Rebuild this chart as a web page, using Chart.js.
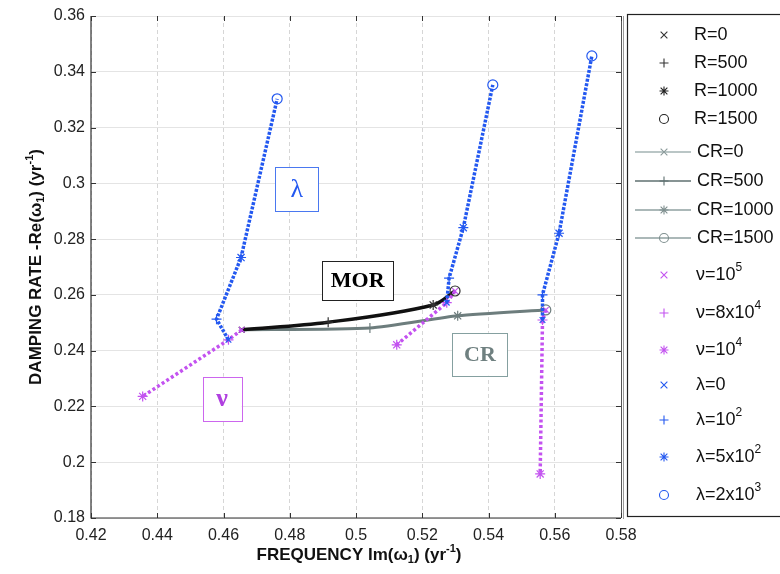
<!DOCTYPE html>
<html>
<head>
<meta charset="utf-8">
<script src="https://cdn.jsdelivr.net/npm/chart.js@4.4.0/dist/chart.umd.min.js"></script>
<style>
  html, body { margin: 0; padding: 0; background: #fff; }
  #wrap { width: 780px; height: 574px; }
</style>
</head>
<body>
<div id="wrap"><canvas id="c" width="780" height="574"></canvas></div>
<script>
// axis ticks
const xTicks = [0.42, 0.44, 0.46, 0.48, 0.50, 0.52, 0.54, 0.56, 0.58];
const yTicks = [0.18, 0.20, 0.22, 0.24, 0.26, 0.28, 0.30, 0.32, 0.34, 0.36];

// MOR branch (R = 0, 500, 1000, 1500)
const morX = [0.4655, 0.4916, 0.5233, 0.5299];
const morY = [0.2475, 0.2502, 0.2564, 0.2614];

// CR branch (CR = 0, 500, 1000, 1500)
const crX = [0.4655, 0.5042, 0.5307, 0.5573];
const crY = [0.2475, 0.2481, 0.2525, 0.2546];

// nu branches (nu = 1e5, 8e4, 1e4)
const nuX1 = [0.4655, 0.4615, 0.4356];
const nuY1 = [0.2475, 0.2439, 0.2236];
const nuX2 = [0.5299, 0.5274, 0.5123];
const nuY2 = [0.2614, 0.2572, 0.2421];
const nuX3 = [0.5573, 0.5563, 0.5556];
const nuY3 = [0.2546, 0.2510, 0.1958];

// lambda branches (lambda = 0, 1e2, 5e2, 2e3)
const lamX1 = [0.4615, 0.4579, 0.4653, 0.4762];
const lamY1 = [0.2439, 0.2513, 0.2734, 0.3303];
const lamX2 = [0.5274, 0.5281, 0.5324, 0.5413];
const lamY2 = [0.2572, 0.2660, 0.2841, 0.3353];
const lamX3 = [0.5563, 0.5563, 0.5613, 0.5712];
const lamY3 = [0.2510, 0.2600, 0.2821, 0.3457];

const legendLabels = ['R=0', 'R=500', 'R=1000', 'R=1500',
  'CR=0', 'CR=500', 'CR=1000', 'CR=1500',
  'ν=10^5', 'ν=8x10^4', 'ν=10^4',
  'λ=0', 'λ=10^2', 'λ=5x10^2', 'λ=2x10^3'];

const xTitle = 'FREQUENCY Im(ω_1) (yr^{-1})';
const yTitle = 'DAMPING RATE -Re(ω_1) (yr^{-1})';

// colours
const BLUE = '#2358f0';
const PINK = '#c352f0';
const BLACK = '#111111';
const GREY = '#6d7d7d';
const SANS = '"Liberation Sans", Arial, sans-serif';
const SERIF = '"Liberation Serif", "DejaVu Serif", serif';

const markers = ['crossRot', 'cross', 'star', 'circle'];

const pts = (xs, ys) => xs.map((x, i) => ({ x: x, y: ys[i] }));

function series(xs, ys, color, width, dash, extra) {
    return Object.assign({
        data: pts(xs, ys),
        showLine: true,
        borderColor: color,
        borderWidth: width,
        borderDash: dash,
        pointStyle: markers.slice(0, xs.length),
        pointRadius: [4, 5, 5, 5],
        pointBorderColor: color,
        pointBackgroundColor: 'rgba(0,0,0,0)',
        pointBorderWidth: 1.2,
        tension: 0
    }, extra || {});
}

// legend row layout (styles only)
const legendRows = [35, 63, 91, 119, 152, 181, 210, 238, 275, 313, 350, 385, 420, 457, 495];
const legendStyle = [
    { m: 'crossRot', c: '#333' }, { m: 'cross', c: '#333' }, { m: 'star', c: '#222' }, { m: 'circle', c: '#222' },
    { m: 'crossRot', c: '#8a9a9a', line: '#a3b3b3' }, { m: 'cross', c: '#5f7070', line: '#5f7070' },
    { m: 'star', c: '#7f8f8f', line: '#8fa0a0' }, { m: 'circle', c: '#7f8f8f', line: '#8fa0a0' },
    { m: 'crossRot', c: PINK }, { m: 'cross', c: PINK }, { m: 'star', c: PINK },
    { m: 'crossRot', c: BLUE }, { m: 'cross', c: BLUE }, { m: 'star', c: BLUE }, { m: 'circle', c: BLUE }
];

// text boxes placed in data units
const boxes = [
    { text: 'λ', x: 0.4821, y: 0.2978, w: 43, h: 44, color: BLUE, border: '#4a78f0', font: '26px ' + SERIF },
    { text: 'MOR', x: 0.5005, y: 0.2652, w: 71, h: 39, color: '#000', border: '#222', font: 'bold 22px ' + SERIF },
    { text: 'CR', x: 0.5374, y: 0.2387, w: 55, h: 43, color: '#6f8080', border: '#85a0a0', font: 'bold 22px ' + SERIF },
    { text: 'ν', x: 0.4596, y: 0.2228, w: 39, h: 44, color: '#b040e0', border: '#cc66ee', font: 'bold 26px ' + SERIF }
];

function drawMarker(ctx, style, x, y, r, color) {
    ctx.save();
    ctx.strokeStyle = color;
    ctx.lineWidth = 1.1;
    ctx.beginPath();
    const d = r * 0.75;
    if (style === 'crossRot' || style === 'star') {
        ctx.moveTo(x - d, y - d); ctx.lineTo(x + d, y + d);
        ctx.moveTo(x - d, y + d); ctx.lineTo(x + d, y - d);
    }
    if (style === 'cross' || style === 'star') {
        ctx.moveTo(x - r, y); ctx.lineTo(x + r, y);
        ctx.moveTo(x, y - r); ctx.lineTo(x, y + r);
    }
    if (style === 'circle') {
        ctx.arc(x, y, r, 0, Math.PI * 2);
    }
    ctx.stroke();
    ctx.restore();
}

// rich text: a_b subscript, a^b superscript, braces for groups
function parseRich(text) {
    const out = [];
    const re = /([_^])(\{[^}]*\}|.)/g;
    let last = 0, m;
    while ((m = re.exec(text)) !== null) {
        if (m.index > last) out.push({ t: text.slice(last, m.index), k: '' });
        out.push({ t: m[2].replace(/[{}]/g, ''), k: m[1] });
        last = re.lastIndex;
    }
    if (last < text.length) out.push({ t: text.slice(last), k: '' });
    return out;
}

function drawRich(ctx, text, x, y, size, weight, align) {
    const parts = parseRich(text);
    const fontFor = k => weight + ' ' + (k ? Math.round(size * 0.65) : size) + 'px ' + SANS;
    let total = 0;
    parts.forEach(p => { ctx.font = fontFor(p.k); p.w = ctx.measureText(p.t).width; total += p.w; });
    let cx = align === 'center' ? x - total / 2 : x;
    ctx.textBaseline = 'middle';
    ctx.textAlign = 'left';
    parts.forEach(p => {
        ctx.font = fontFor(p.k);
        const dy = p.k === '_' ? size * 0.32 : (p.k === '^' ? -size * 0.38 : 0);
        ctx.fillText(p.t, cx, y + dy);
        cx += p.w;
    });
}

const decor = {
    id: 'decor',
    beforeDatasetsDraw(chart) {
        const ctx = chart.ctx, xs = chart.scales.x, ys = chart.scales.y;
        boxes.forEach(b => {
            const cx = xs.getPixelForValue(b.x), cy = ys.getPixelForValue(b.y);
            ctx.save();
            ctx.fillStyle = '#fff';
            ctx.fillRect(cx - b.w / 2, cy - b.h / 2, b.w, b.h);
            ctx.strokeStyle = b.border;
            ctx.lineWidth = 1;
            ctx.strokeRect(Math.round(cx - b.w / 2) + 0.5, Math.round(cy - b.h / 2) + 0.5, b.w, b.h);
            ctx.fillStyle = b.color;
            ctx.font = b.font;
            ctx.textAlign = 'center';
            ctx.textBaseline = 'middle';
            ctx.fillText(b.text, cx, cy + 1);
            ctx.restore();
        });
    },
    afterDraw(chart) {
        const ctx = chart.ctx, a = chart.chartArea, xs = chart.scales.x, ys = chart.scales.y;
        ctx.save();
        // axes box
        ctx.strokeStyle = '#333';
        ctx.lineWidth = 1.2;
        ctx.beginPath();
        ctx.moveTo(a.left, a.top); ctx.lineTo(a.left, a.bottom); ctx.lineTo(a.right, a.bottom);
        ctx.stroke();
        ctx.strokeStyle = '#555';
        ctx.lineWidth = 1;
        ctx.beginPath();
        ctx.moveTo(a.right + 0.5, a.top); ctx.lineTo(a.right + 0.5, a.bottom);
        ctx.stroke();
        ctx.strokeStyle = '#999';
        ctx.beginPath();
        ctx.moveTo(a.right + 2.5, a.top); ctx.lineTo(a.right + 2.5, a.bottom + 1);
        ctx.stroke();
        // inward tick marks
        ctx.strokeStyle = '#333';
        ctx.beginPath();
        xTicks.forEach(v => {
            const px = Math.round(xs.getPixelForValue(v)) + 0.5;
            ctx.moveTo(px, a.bottom); ctx.lineTo(px, a.bottom - 5);
            ctx.moveTo(px, a.top); ctx.lineTo(px, a.top + 5);
        });
        yTicks.forEach(v => {
            const py = Math.round(ys.getPixelForValue(v)) + 0.5;
            ctx.moveTo(a.left, py); ctx.lineTo(a.left + 5, py);
            ctx.moveTo(a.right, py); ctx.lineTo(a.right - 5, py);
        });
        ctx.stroke();

        // axis titles
        ctx.fillStyle = '#111';
        drawRich(ctx, xTitle, (a.left + a.right) / 2 + 3, 555, 17, 'bold', 'center');
        ctx.save();
        ctx.translate(36, (a.top + a.bottom) / 2);
        ctx.rotate(-Math.PI / 2);
        drawRich(ctx, yTitle, 0, 0, 17, 'bold', 'center');
        ctx.restore();

        // legend
        ctx.fillStyle = '#fff';
        ctx.fillRect(627, 14, 170, 502);
        ctx.strokeStyle = '#222';
        ctx.lineWidth = 1.2;
        ctx.strokeRect(627.5, 14.5, 170, 502);
        legendLabels.forEach((lab, i) => {
            const y = legendRows[i], st = legendStyle[i];
            if (st.line) {
                ctx.strokeStyle = st.line;
                ctx.lineWidth = 1.5;
                ctx.beginPath();
                ctx.moveTo(635, y); ctx.lineTo(691, y);
                ctx.stroke();
            }
            drawMarker(ctx, st.m, 664, y, 4.5, st.c);
            ctx.fillStyle = '#111';
            drawRich(ctx, lab, i < 4 ? 694 : (i < 8 ? 697 : 696), y, 18, 'normal', 'left');
        });
        ctx.restore();
    }
};

const fmt = v => String(+Number(v).toFixed(2));

new Chart(document.getElementById('c'), {
    type: 'scatter',
    data: {
        datasets: [
            series(lamX1, lamY1, BLUE, 3.5, [3, 1.5]),
            series(lamX2, lamY2, BLUE, 3.5, [3, 1.5]),
            series(lamX3, lamY3, BLUE, 3.5, [3, 1.5]),
            series(nuX1, nuY1, PINK, 3.5, [3, 2.5]),
            series(nuX2, nuY2, PINK, 3.5, [3, 2.5]),
            series(nuX3, nuY3, PINK, 3.5, [3, 2.5]),
            series(morX, morY, BLACK, 3.5, [], { tension: 0.35, pointBorderColor: '#333' }),
            series(crX, crY, GREY, 3, [], { tension: 0.2 })
        ]
    },
    options: {
        responsive: false,
        devicePixelRatio: 1,
        animation: false,
        layout: { padding: { top: 16, right: 159, left: 0, bottom: 0 } },
        plugins: {
            legend: { display: false },
            tooltip: { enabled: false }
        },
        scales: {
            x: {
                type: 'linear',
                min: 0.42,
                max: 0.58,
                afterBuildTicks: s => { s.ticks = xTicks.map(v => ({ value: v })); },
                afterFit: s => { s.height = 56; },
                grid: { color: '#d6d6d6', lineWidth: 1, drawTicks: false, borderDash: [4, 3] },
                border: { display: false, dash: [4, 3] },
                ticks: {
                    autoSkip: false,
                    maxRotation: 0,
                    padding: 8,
                    color: '#222',
                    font: { family: SANS, size: 16 },
                    callback: fmt
                }
            },
            y: {
                type: 'linear',
                min: 0.18,
                max: 0.36,
                afterBuildTicks: s => { s.ticks = yTicks.map(v => ({ value: v })); },
                afterFit: s => { s.width = 91; },
                grid: { color: '#e4e4e4', lineWidth: 1, drawTicks: false },
                border: { display: false },
                ticks: {
                    autoSkip: false,
                    padding: 6,
                    color: '#222',
                    font: { family: SANS, size: 16 },
                    callback: fmt
                }
            }
        }
    },
    plugins: [decor]
});
</script>
</body>
</html>
